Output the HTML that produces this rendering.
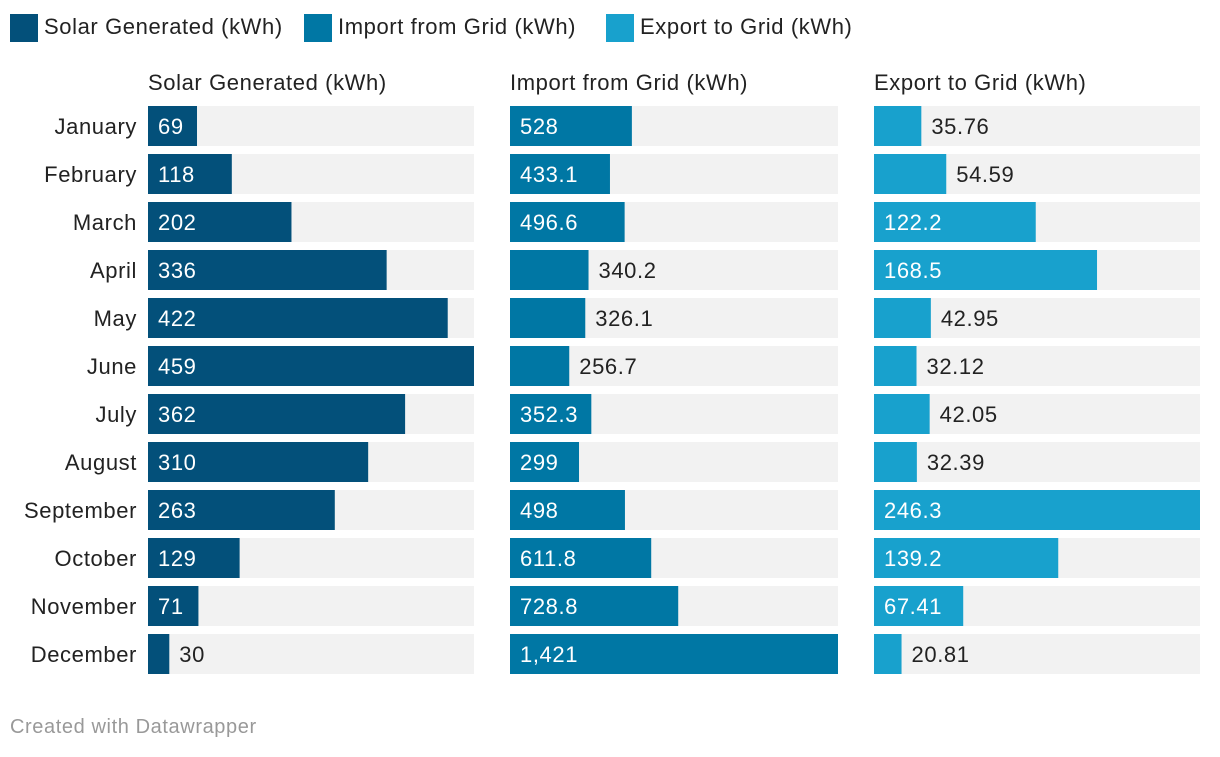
<!DOCTYPE html>
<html><head><meta charset="utf-8">
<style>
body{margin:0;background:#fff;width:1220px;height:752px;overflow:hidden;font-family:"Liberation Sans",sans-serif;}
svg text{font-family:"Liberation Sans",sans-serif;letter-spacing:0.6px;}
</style></head>
<body>
<svg id="chart" width="1220" height="752" xmlns="http://www.w3.org/2000/svg"></svg>
<script>
const months=["January","February","March","April","May","June","July","August","September","October","November","December"];
const solar=[69,118,202,336,422,459,362,310,263,129,71,30];
const solarLabels=["69","118","202","336","422","459","362","310","263","129","71","30"];
const importGrid=[528,433.1,496.6,340.2,326.1,256.7,352.3,299,498,611.8,728.8,1421];
const importLabels=["528","433.1","496.6","340.2","326.1","256.7","352.3","299","498","611.8","728.8","1,421"];
const exportGrid=[35.76,54.59,122.2,168.5,42.95,32.12,42.05,32.39,246.3,139.2,67.41,20.81];
const exportLabels=["35.76","54.59","122.2","168.5","42.95","32.12","42.05","32.39","246.3","139.2","67.41","20.81"];
const seriesNames=["Solar Generated (kWh)","Import from Grid (kWh)","Export to Grid (kWh)"];

const svg=document.getElementById('chart');
const NS="http://www.w3.org/2000/svg";
function mk(tag,attrs,parent){const e=document.createElementNS(NS,tag);for(const k in attrs)e.setAttribute(k,attrs[k]);(parent||svg).appendChild(e);return e;}
const colors=["#03507a","#0077a4","#18a1cd"];
const panels=[{x:148,w:326,vals:solar,labs:solarLabels,key:"solar"},{x:510,w:328,vals:importGrid,labs:importLabels,key:"import"},{x:874,w:326,vals:exportGrid,labs:exportLabels,key:"export"}];
const legX=[10,304,606];
seriesNames.forEach((n,i)=>{
  const r=mk('rect',{x:legX[i],y:14,width:28,height:28,fill:colors[i]});
  
  
  const t=mk('text',{x:legX[i]+34,y:34,'font-size':22,fill:'#222'});
  t.textContent=n;
  
  
});
const top0=106,pitch=48,bh=40;
months.forEach((m,i)=>{
  const t=mk('text',{x:137,y:top0+i*pitch+28,'font-size':22,fill:'#222','text-anchor':'end'});
  t.textContent=m;
  
  
});
function tw(s){let w=0;for(const c of s)w+=(c=='.'||c==',')?6.1:12.2;return w;}
panels.forEach((p,pi)=>{
  const title=mk('text',{x:p.x,y:90,'font-size':22,fill:'#222'});
  title.textContent=seriesNames[pi];
  
  
  const max=Math.max(...p.vals);
  const sx=v=>v/max*p.w;
  p.vals.forEach((v,i)=>{
    const y=top0+i*pitch;
    const bg=mk('rect',{x:p.x,y:y,width:p.w,height:bh,fill:'#f2f2f2'});
    
    
    const w=sx(v);
    const b=mk('rect',{x:p.x,y:y,width:w,height:bh,fill:colors[pi]});
    
    
    const lab=p.labs[i];
    const inside=(w-tw(lab))>24;
    const t=mk('text',{x:inside?p.x+10:p.x+w+10,y:y+28,'font-size':22,fill:inside?'#fff':'#222'});
    t.textContent=lab;
    
    
  });
});
const f=mk('text',{x:10,y:733,'font-size':20,fill:'#999','letter-spacing':'1px'});
f.textContent="Created with Datawrapper";


</script>
</body></html>
